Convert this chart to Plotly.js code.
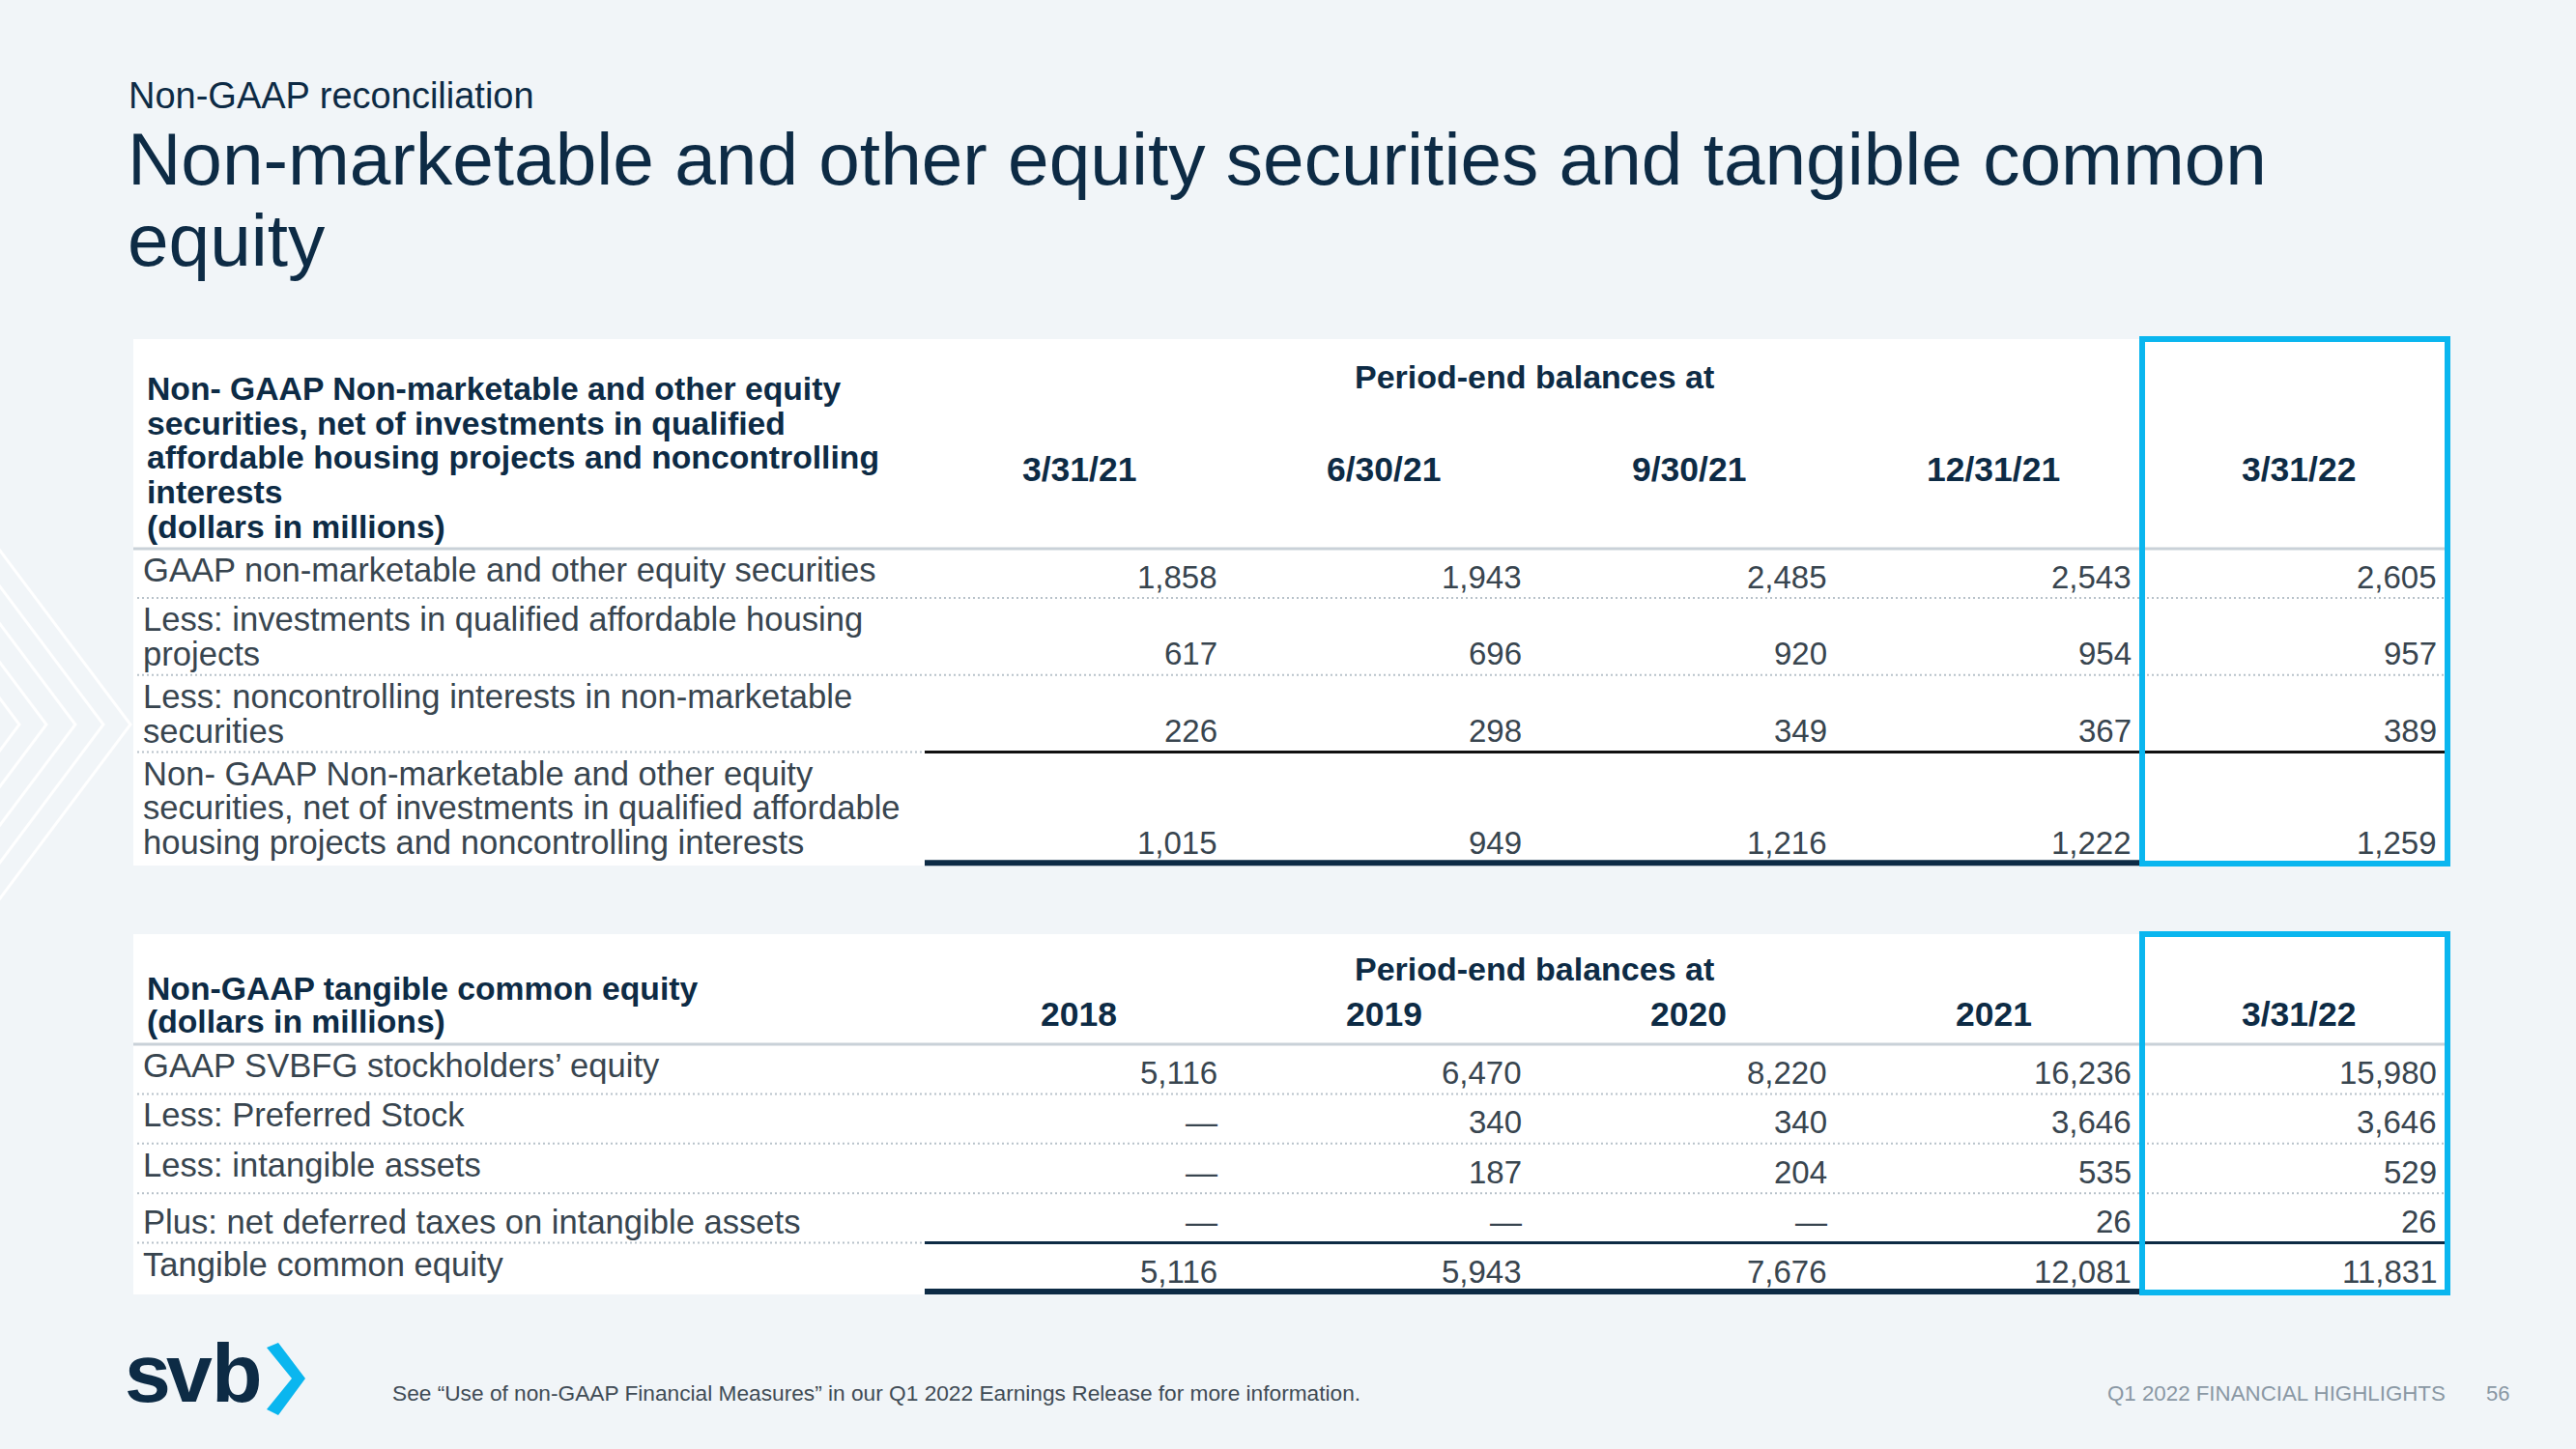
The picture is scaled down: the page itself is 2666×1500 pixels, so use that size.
<!DOCTYPE html>
<html><head><meta charset="utf-8">
<script src="https://cdn.plot.ly/plotly-3.0.1.min.js"></script>
<style>html,body{margin:0;padding:0;background:#f1f5f8;overflow:hidden;} #chart{width:2666px;height:1500px;}</style>
</head><body><div id="chart"></div>
<script>
// ---------------- data ----------------
const kicker = 'Non-GAAP reconciliation';
const titleLines = ['Non-marketable and other equity securities and tangible common', 'equity'];

const t1Header = ['Non- GAAP Non-marketable and other equity', 'securities, net of investments in qualified',
  'affordable housing projects and noncontrolling', 'interests', '(dollars in millions)'];
const t1Group = 'Period-end balances at';
const t1Periods = ['3/31/21', '6/30/21', '9/30/21', '12/31/21', '3/31/22'];
const t1Labels = [
  ['GAAP non-marketable and other equity securities'],
  ['Less: investments in qualified affordable housing', 'projects'],
  ['Less: noncontrolling interests in non-marketable', 'securities'],
  ['Non- GAAP Non-marketable and other equity', 'securities, net of investments in qualified affordable', 'housing projects and noncontrolling interests']
];
const gaapNonMarketable = [1858, 1943, 2485, 2543, 2605];
const lessAffordableHousing = [617, 696, 920, 954, 957];
const lessNoncontrolling = [226, 298, 349, 367, 389];
const nonGaapNonMarketable = [1015, 949, 1216, 1222, 1259];

const t2Header = ['Non-GAAP tangible common equity', '(dollars in millions)'];
const t2Group = 'Period-end balances at';
const t2Periods = ['2018', '2019', '2020', '2021', '3/31/22'];
const t2Labels = [
  ['GAAP SVBFG stockholders’ equity'],
  ['Less: Preferred Stock'],
  ['Less: intangible assets'],
  ['Plus: net deferred taxes on intangible assets'],
  ['Tangible common equity']
];
const gaapEquity = [5116, 6470, 8220, 16236, 15980];
const lessPreferred = [null, 340, 340, 3646, 3646];
const lessIntangible = [null, 187, 204, 535, 529];
const plusDeferredTax = [null, null, null, 26, 26];
const tangibleEquity = [5116, 5943, 7676, 12081, 11831];

const footnote = 'See “Use of non-GAAP Financial Measures” in our Q1 2022 Earnings Release for more information.';
const footerRight = 'Q1 2022 FINANCIAL HIGHLIGHTS';
const pageNum = '56';
const logoLetters = ['s', 'v', 'b'];

// ---------------- style ----------------
const FONT = 'Liberation Sans, Arial, Helvetica, sans-serif';
const NAVY = '#0d2b45';
const BODY = '#38454f';
const CYAN = '#0ab6ef';
const DOT = '#b8c2ca';
const RULE = '#c9d1d8';
const GREY = '#8a98a4';

const ann = [];
const shapes = [];
function txt(x, y, text, size, color, opts) {
  const o = opts || {};
  ann.push({
    x: x, y: y, xref: 'x', yref: 'y', text: text, showarrow: false,
    xanchor: o.xanchor || 'left', yanchor: 'middle', borderpad: 0, borderwidth: 0,
    font: {family: FONT, size: size, color: color, weight: o.bold ? 700 : 400}
  });
}
function hline(x0, x1, y, color, width, dash) {
  shapes.push({type: 'line', xref: 'x', yref: 'y', x0: x0, x1: x1, y0: y, y1: y,
    line: {color: color, width: width, dash: dash || 'solid'}, layer: 'above'});
}

// ---------------- geometry ----------------
const COL_L = 957, COL_W = 315.5, BOX_L = 138, BOX_R = 2533, LABEL_X = 148, LINE = 35.8;
function colRight(i) { return COL_L + (i + 1) * COL_W; }
function colCenter(i) { return COL_L + (i + 0.5) * COL_W; }
function fmt(v) { return v == null ? '—' : v.toLocaleString('en-US'); }

function drawTable(t) {
  shapes.push({type: 'rect', xref: 'x', yref: 'y', x0: BOX_L, x1: BOX_R, y0: t.top, y1: t.bottom,
    fillcolor: '#ffffff', line: {width: 0}, layer: 'below'});
  t.header.forEach((line, i) => txt(LABEL_X + 4, t.headerY0 + i * t.headerStep, line, 33.7, NAVY, {bold: true}));
  txt((COL_L + colRight(3)) / 2, t.groupY, t.group, 34, NAVY, {bold: true, xanchor: 'center'});
  t.periods.forEach((p, i) => txt(colCenter(i) + 2, t.periodY, p, 35.5, NAVY, {bold: true, xanchor: 'center'}));
  hline(BOX_L, BOX_R, t.headerLine, RULE, 3);
  let y = t.headerLine;
  const n = t.labels.length;
  t.labels.forEach((lines, r) => {
    const h = t.rowH(lines.length);
    const top = y, bot = y + h;
    const first = (t.labelAlign[r] === 'bottom') ? bot - 22 - LINE * (lines.length - 1) : top + 22;
    lines.forEach((ln, k) => txt(LABEL_X, first + k * LINE, ln, 34.6, BODY));
    t.values[r].forEach((v, i) => txt(colRight(i) - 13, bot - 22, fmt(v), 33, BODY, {xanchor: 'right'}));
    if (r === n - 1) {
      hline(COL_L, colRight(3) - 2, bot - 1, NAVY, 6);
    } else if (r === n - 2) {
      hline(BOX_L + 4, COL_L, bot, DOT, 2, '2px,3px');
      hline(COL_L, BOX_R, bot, t.totalRule, 3);
    } else {
      hline(BOX_L + 4, BOX_R - 4, bot, DOT, 2, '2px,3px');
    }
    y = bot;
  });
  shapes.push({type: 'rect', xref: 'x', yref: 'y', x0: colRight(3) - 2, x1: BOX_R, y0: t.top, y1: t.bottom - 2,
    fillcolor: 'rgba(0,0,0,0)', line: {color: CYAN, width: 6}, layer: 'above'});
}

// decorative chevrons on the left edge
[135, 107, 78, 48, 20].forEach(tx => {
  shapes.push({type: 'path', xref: 'x', yref: 'y',
    path: 'M -5 ' + (750 - 1.333 * (tx + 5)) + ' L ' + tx + ' 750 L -5 ' + (750 + 1.333 * (tx + 5)),
    line: {color: 'rgba(255,255,255,0.95)', width: 3}, layer: 'below'});
});

// titles
txt(133, 99, kicker, 38, NAVY);
txt(132, 164, titleLines[0], 76.6, NAVY);
txt(132, 248, titleLines[1], 76.6, NAVY);

drawTable({
  top: 351, bottom: 896, header: t1Header, headerY0: 402, headerStep: 35.7,
  group: t1Group, groupY: 390, periods: t1Periods, periodY: 486, headerLine: 568,
  labels: t1Labels, labelAlign: ['top', 'top', 'top', 'top'],
  values: [gaapNonMarketable, lessAffordableHousing, lessNoncontrolling, nonGaapNonMarketable],
  rowH: nl => Math.max(51, 44 + LINE * (nl - 1)), totalRule: '#111111'
});

drawTable({
  top: 967, bottom: 1340, header: t2Header, headerY0: 1023, headerStep: 34,
  group: t2Group, groupY: 1003, periods: t2Periods, periodY: 1050, headerLine: 1081,
  labels: t2Labels, labelAlign: ['top', 'top', 'top', 'bottom', 'top'],
  values: [gaapEquity, lessPreferred, lessIntangible, plusDeferredTax, tangibleEquity],
  rowH: nl => 51.4, totalRule: NAVY
});

// footer
[153, 196, 245].forEach((x, i) => txt(x, 1421, logoLetters[i], 86, NAVY, {bold: true, xanchor: 'center'}));
shapes.push({type: 'path', xref: 'x', yref: 'y',
  path: 'M 276 1395 L 288 1390 L 316 1427 L 288 1465 L 276 1459 L 302 1427 Z',
  fillcolor: CYAN, line: {width: 0}, layer: 'above'});
txt(406, 1442, footnote, 22.7, '#3f4b55');
txt(2531, 1442, footerRight, 22.3, GREY, {xanchor: 'right'});
txt(2585, 1442, pageNum, 22, GREY, {xanchor: 'center'});

const layout = {
  width: 2666, height: 1500,
  margin: {l: 0, r: 0, t: 0, b: 0, pad: 0},
  paper_bgcolor: '#f1f5f8', plot_bgcolor: '#f1f5f8',
  xaxis: {range: [0, 2666], visible: false, fixedrange: true},
  yaxis: {range: [1500, 0], visible: false, fixedrange: true},
  showlegend: false,
  annotations: ann, shapes: shapes
};
Plotly.newPlot('chart', [{type: 'scatter', x: [], y: [], hoverinfo: 'skip'}], layout, {displayModeBar: false, staticPlot: true});
</script>
</body></html>
